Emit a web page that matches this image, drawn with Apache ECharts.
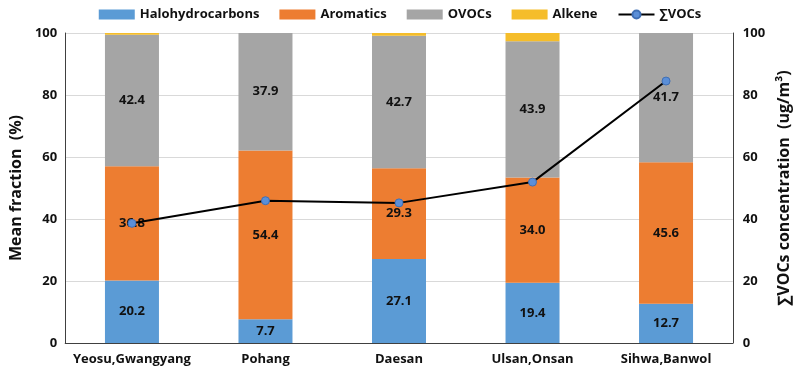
<!DOCTYPE html>
<html>
<head>
<meta charset="utf-8">
<script src="https://cdn.jsdelivr.net/npm/echarts@6/dist/echarts.min.js"></script>
<style>
  html, body { margin: 0; padding: 0; background: #fff; }
  #main { width: 800px; height: 375px; }
</style>
</head>
<body>
<div id="main"></div>
<script>
// 数据
var sites = ['Yeosu,Gwangyang', 'Pohang', 'Daesan', 'Ulsan,Onsan', 'Sihwa,Banwol'];
var halo = [20.2, 7.7, 27.1, 19.4, 12.7];
var aromatics = [36.8, 54.4, 29.3, 34.0, 45.6];
var ovocs = [42.4, 37.9, 42.7, 43.9, 41.7];
var alkene = [0.6, 0, 0.9, 2.7, 0];
var totalVocs = [38.6, 45.9, 45.2, 51.9, 84.5];

var font = '"Open Sans", sans-serif';

var chart = echarts.init(document.getElementById('main'));

// 柱子上的数值
function barLabel() {
  return {
    show: true,
    position: 'inside',
    color: '#111',
    fontWeight: 'bold',
    fontSize: 13,
    fontFamily: font,
    formatter: function (p) { return p.value.toFixed(1); }
  };
}

function stackBar(name, data, color, label) {
  return {
    name: name,
    type: 'bar',
    stack: 'frac',
    barWidth: 54,
    data: data,
    itemStyle: { color: color },
    label: label ? barLabel() : { show: false },
    z: 2
  };
}

var axisText = { color: '#111', fontWeight: 'bold', fontSize: 13, fontFamily: font };

var option = {
  animation: false,
  grid: { left: 57, right: 66, top: 33, bottom: 32 },
  legend: {
    top: 3,
    left: 'center',
    itemGap: 20,
    itemWidth: 36,
    itemHeight: 10,
    textStyle: { color: '#111', fontWeight: 'bold', fontSize: 13, fontFamily: font },
    data: [
      { name: 'Halohydrocarbons', icon: 'rect' },
      { name: 'Aromatics', icon: 'rect' },
      { name: 'OVOCs', icon: 'rect' },
      { name: 'Alkene', icon: 'rect' },
      { name: '∑VOCs' }
    ]
  },
  xAxis: {
    type: 'category',
    data: sites,
    axisTick: { show: false },
    axisLine: { lineStyle: { color: '#404040', width: 1 } },
    axisLabel: Object.assign({ margin: 10, interval: 0 }, axisText)
  },
  yAxis: [{
    type: 'value',
    min: 0, max: 100, interval: 20,
    name: 'Mean fraction  (%)',
    nameLocation: 'middle',
    nameGap: 38,
    nameTextStyle: { color: '#111', fontWeight: 'bold', fontSize: 16, fontFamily: font },
    axisLine: { show: true, lineStyle: { color: '#404040' } },
    axisTick: { show: false },
    axisLabel: axisText,
    splitLine: { lineStyle: { color: '#d9d9d9' } }
  }, {
    type: 'value',
    min: 0, max: 100, interval: 20,
    name: '∑VOCs concentration  (ug/m³)',
    nameLocation: 'middle',
    nameGap: 42,
    nameRotate: 90,
    nameTextStyle: { color: '#111', fontWeight: 'bold', fontSize: 16, fontFamily: font },
    axisLine: { show: true, lineStyle: { color: '#404040' } },
    axisTick: { show: false },
    axisLabel: Object.assign({ margin: 10 }, axisText),
    splitLine: { show: false }
  }],
  series: [
    stackBar('Halohydrocarbons', halo, '#5b9bd5', true),
    stackBar('Aromatics', aromatics, '#ed7d31', true),
    stackBar('OVOCs', ovocs, '#a5a5a5', true),
    stackBar('Alkene', alkene, '#f5bd2a', false),
    {
      name: '∑VOCs',
      type: 'line',
      yAxisIndex: 1,
      data: totalVocs,
      symbol: 'circle',
      symbolSize: 8,
      lineStyle: { color: '#000', width: 2 },
      itemStyle: { color: '#5b8fd8', borderColor: '#3f6fb5', borderWidth: 1 },
      z: 5
    }
  ]
};

chart.setOption(option);
</script>
</body>
</html>
